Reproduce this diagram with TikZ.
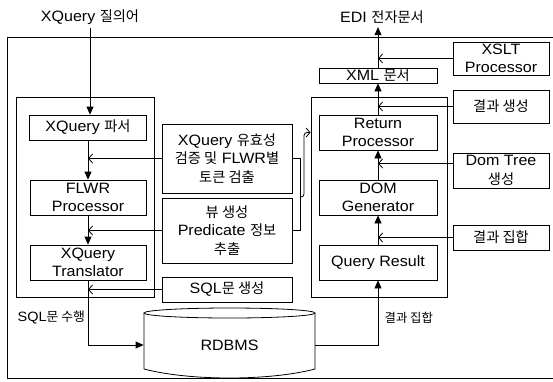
\documentclass[tikz,border=0pt]{standalone}
\usepackage{fontspec}
\setmainfont{Liberation Sans}[FakeStretch=1.07]
\newfontfamily\krfont{Noto Sans CJK KR}[Scale=0.95]
\usetikzlibrary{arrows.meta}

\tikzset{
  box/.style={draw,align=center,inner sep=0pt,minimum width=118},
  fillhead/.style={-{Triangle[length=8pt,width=7pt]}},
  openhead/.style={-{Straight Barb[length=4pt,width=9pt]}},
}

\begin{document}
\begin{tikzpicture}[x=1pt,y=-1pt,line width=0.8pt,font=\fontsize{15}{18.5}\selectfont]
  \useasboundingbox (0,0) rectangle (553,381);
  % outer frame, open to the right
  \draw (553,37) -- (7,37) -- (7,378) -- (553,378);

  % left group
  \node[draw,minimum width=138,minimum height=200] (leftgrp) at (85,197) {};
  \node[box,minimum width=117,minimum height=25] (parser) at (88,127.5) {XQuery {\krfont 파서}};
  \node[box,minimum width=116,minimum height=35] (flwr) at (88,197.5) {FLWR\\Processor};
  \node[box,minimum width=116,minimum height=35] (trans) at (88,262.5) {XQuery\\Translator};

  % middle boxes
  \node[box,minimum width=130,minimum height=69] (valid) at (227,158.5) {XQuery {\krfont 유효성}\\{\krfont 검증 및} FLWR{\krfont 별}\\{\krfont 토큰 검출}};
  \node[box,minimum width=130,minimum height=65] (view) at (227,230.5) {{\krfont 뷰 생성}\\Predicate {\krfont 정보}\\{\krfont 추출}};
  \node[box,minimum width=130,minimum height=25] (sqlgen) at (227,289.5) {SQL{\krfont 문 생성}};

  % right group
  \node[draw,minimum width=136,minimum height=200] (rightgrp) at (379,197) {};
  \node[box,minimum height=15,text height=10,text depth=1] (xml) at (378,75.5) {XML {\krfont 문서}};
  \node[box,minimum height=35] (ret) at (378,132.5) {Return\\Processor};
  \node[box,minimum height=35] (dom) at (378,197.5) {DOM\\Generator};
  \node[box,minimum height=35] (qres) at (378,262.5) {Query Result};

  % side boxes
  \node[box,minimum width=96,minimum height=33] (xslt) at (501,58.5) {XSLT\\Processor};
  \node[box,minimum width=96,minimum height=33] (resgen) at (501,106.5) {{\krfont 결과 생성}};
  \node[box,minimum width=96,minimum height=35] (domtree) at (501,170.5) {Dom Tree\\{\krfont 생성}};
  \node[box,minimum width=96,minimum height=25] (resset) at (501,237.5) {{\krfont 결과 집합}};

  % labels
  \node (qin) at (90,17) {XQuery {\krfont 질의어}};
  \node (edi) at (382,17) {EDI {\krfont 전자문서}};
  \node[anchor=west,font=\fontsize{13.5}{15}\selectfont] (sqlrun) at (14,317) {SQL{\krfont 문 수행}};
  \node[anchor=west,font=\fontsize{13}{15}\selectfont] (resrun) at (381,318) {{\krfont 결과 집합}};

  % database
  \draw (229.5,313) ellipse [x radius=85.5,y radius=5];
  \draw (144,313) -- (144,369) .. controls (190,381) and (269,381) .. (315,369) -- (315,313);
  \node[minimum width=171,minimum height=50] (rdbms) at (229.5,345) {RDBMS};

  % connectors
  \draw[fillhead] (qin.south) -- (qin.south |- parser.north);
  \draw[fillhead] (parser.south) -- (flwr.north);
  \draw[fillhead] (flwr.south) -- (trans.north);
  \draw[openhead] (valid.west) -- (valid.west -| parser.south);
  \draw[openhead] (view.west) -- (view.west -| flwr.south);
  \draw[openhead] (sqlgen.west) -- (sqlgen.west -| trans.south);
  \draw[fillhead] (trans.south) |- (rdbms.west);
  \draw[fillhead] (rdbms.east) -| (qres.south);
  \draw[fillhead] (qres.north) -- (dom.south);
  \draw[fillhead] (dom.north) -- (ret.south);
  \draw[fillhead] (ret.north) -- (xml.south);
  \draw[fillhead] (xml.north) -- (xml.north |- edi.south);
  \draw[openhead] (resset.west) -- (resset.west -| qres.north);
  \draw[openhead] ([yshift=7pt]domtree.west) -- ([yshift=7pt]domtree.west -| dom.north);
  \draw[openhead] (resgen.west) -- (resgen.west -| ret.north);
  \draw[openhead] (xslt.west) -- (xslt.west -| xml.north);
  % bracket joining the two middle boxes
  \draw (valid.east) -- ++(8,0) |- (view.east);
  \coordinate (brk) at (300,197);
  \draw[openhead,rounded corners=3pt] (brk) -- ++(4,0) |- (rightgrp.west |- ret.west);
\end{tikzpicture}
\end{document}
